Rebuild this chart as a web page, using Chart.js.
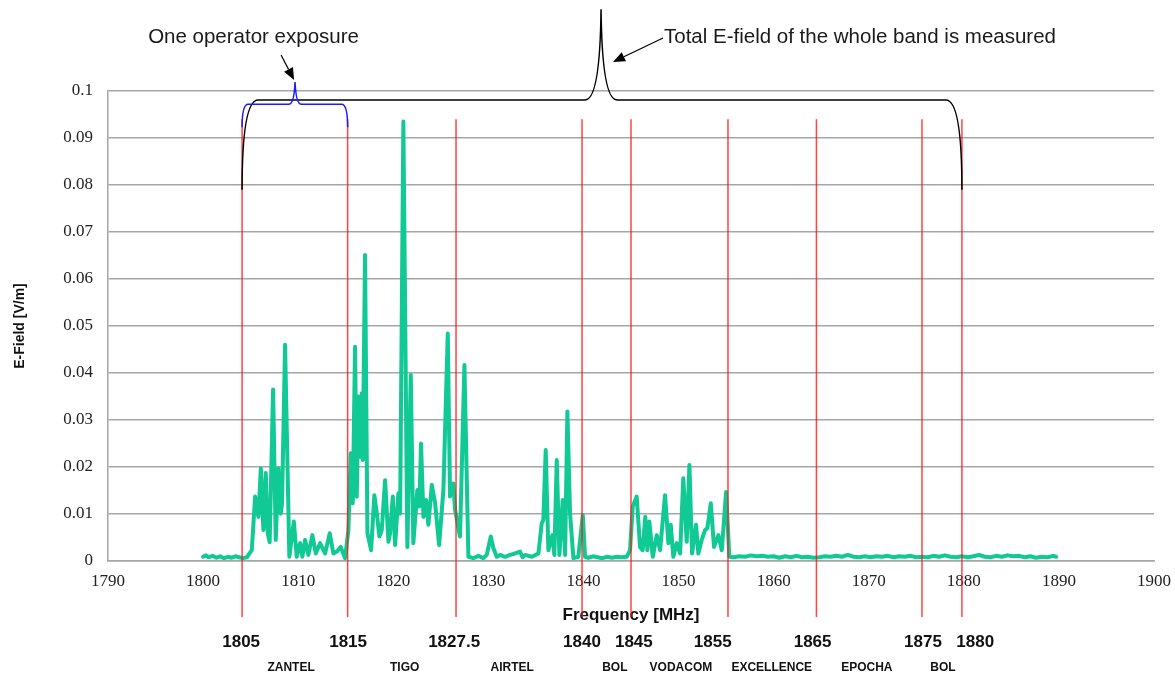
<!DOCTYPE html>
<html>
<head>
<meta charset="utf-8">
<script src="https://cdn.jsdelivr.net/npm/chart.js@4.4.1/dist/chart.umd.min.js"></script>
<style>
    body { margin: 0; background: #fff; }
    #wrap { width: 1175px; height: 677px; }
</style>
</head>
<body>
<div id="wrap"><canvas id="chart" width="1175" height="677"></canvas></div>
<script>
// measured spectrum
const freq = [
    1800.0, 1800.3, 1800.6, 1801.0, 1801.4, 1801.8, 1802.2, 1802.6, 1803.0, 1803.4, 1803.8, 1804.2, 1804.6,
    1805.12, 1805.47, 1805.82, 1806.07, 1806.34, 1806.59, 1806.8, 1807.0, 1807.36, 1807.64, 1807.92, 1808.17,
    1808.3, 1808.62, 1809.07, 1809.54, 1809.85, 1810.2, 1810.44, 1810.73, 1811.07, 1811.49, 1811.85, 1812.3,
    1812.83, 1813.32, 1813.7, 1814.06, 1814.48, 1814.93, 1815.28, 1815.53, 1815.74, 1815.98, 1816.16, 1816.33,
    1816.51, 1816.69, 1816.79, 1817.03, 1817.28, 1817.67, 1818.01, 1818.27, 1818.54, 1818.79, 1819.14, 1819.49,
    1819.66, 1819.95, 1820.19, 1820.54, 1820.72, 1821.06, 1821.48, 1821.84, 1822.11, 1822.53, 1822.74, 1822.92,
    1823.17, 1823.45, 1823.69, 1824.05, 1824.4, 1824.82, 1825.27, 1825.73, 1825.97, 1826.32, 1826.5, 1827.02,
    1827.48, 1827.9, 1828.42, 1828.95, 1829.47, 1829.83, 1830.25, 1830.53, 1830.88, 1831.23, 1831.76, 1832.28,
    1832.81, 1833.33, 1833.6, 1833.86, 1834.56, 1835.26, 1835.61, 1835.78, 1836.03, 1836.31, 1836.73, 1836.94,
    1837.19, 1837.47, 1837.82, 1838.07, 1838.31, 1838.59, 1838.94, 1839.46, 1839.93, 1840.17, 1840.5, 1841.0,
    1841.5, 1842.0, 1842.5, 1843.0, 1843.5, 1844.0, 1844.55, 1844.9, 1845.18, 1845.6, 1845.95, 1846.23, 1846.5,
    1846.72, 1846.93, 1847.29, 1847.71, 1848.06, 1848.58, 1848.93, 1849.18, 1849.45, 1849.81, 1850.16, 1850.5,
    1850.86, 1851.14, 1851.42, 1851.84, 1852.08, 1852.44, 1852.79, 1853.03, 1853.39, 1853.73, 1854.19, 1854.55,
    1855.0, 1855.34, 1855.8, 1856.4, 1857.0, 1857.6, 1858.2, 1858.8, 1859.4, 1860.0, 1860.6, 1861.2, 1861.8,
    1862.4, 1863.0, 1863.6, 1864.2, 1864.8, 1865.4, 1866.0, 1866.6, 1867.2, 1867.8, 1868.4, 1869.0, 1869.6,
    1870.2, 1870.8, 1871.4, 1872.0, 1872.6, 1873.2, 1873.8, 1874.4, 1875.0, 1875.6, 1876.2, 1876.8, 1877.4,
    1878.0, 1878.6, 1879.2, 1879.8, 1880.4, 1881.0, 1881.6, 1882.2, 1882.8, 1883.4, 1884.0, 1884.6, 1885.2,
    1885.8, 1886.4, 1887.0, 1887.6, 1888.2, 1888.8, 1889.4, 1889.7,
];
const efield = [
    0.0009, 0.0012, 0.0008, 0.0011, 0.0007, 0.0010, 0.0006, 0.0009, 0.0007, 0.0010, 0.0008, 0.0006, 0.0008,
    0.0023, 0.0137, 0.0094, 0.0197, 0.0066, 0.0187, 0.0059, 0.0040, 0.0365, 0.0045, 0.0197, 0.0101,
    0.0122, 0.0460, 0.0009, 0.0084, 0.0009, 0.0038, 0.0009, 0.0045, 0.0013, 0.0055, 0.0016, 0.0038,
    0.0016, 0.0059, 0.0016, 0.0020, 0.0030, 0.0006, 0.0066, 0.0229, 0.0123, 0.0456, 0.0137, 0.0350,
    0.0222, 0.0357, 0.0215, 0.0651, 0.0059, 0.0023, 0.0140, 0.0101, 0.0052, 0.0066, 0.0172, 0.0041,
    0.0059, 0.0137, 0.0034, 0.0144, 0.0101, 0.0935, 0.0030, 0.0396, 0.0038, 0.0151, 0.0116, 0.0250,
    0.0094, 0.0130, 0.0077, 0.0162, 0.0123, 0.0034, 0.0151, 0.0484, 0.0137, 0.0165, 0.0109, 0.0052,
    0.0417, 0.0009, 0.0006, 0.0011, 0.0006, 0.0013, 0.0052, 0.0027, 0.0009, 0.0013, 0.0009, 0.0013,
    0.0016, 0.0020, 0.0008, 0.0013, 0.0009, 0.0016, 0.0080, 0.0087, 0.0236, 0.0023, 0.0055, 0.0013,
    0.0215, 0.0013, 0.0130, 0.0013, 0.0318, 0.0101, 0.0006, 0.0009, 0.0098, 0.0009, 0.0007, 0.0010,
    0.0008, 0.0006, 0.0009, 0.0007, 0.0009, 0.0008, 0.0009, 0.0023, 0.0116, 0.0137, 0.0030, 0.0023, 0.0094,
    0.0023, 0.0084, 0.0009, 0.0055, 0.0023, 0.0140, 0.0038, 0.0077, 0.0009, 0.0038, 0.0016, 0.0176,
    0.0041, 0.0204, 0.0016, 0.0077, 0.0016, 0.0045, 0.0066, 0.0070, 0.0123, 0.0030, 0.0055, 0.0023,
    0.0147, 0.0009, 0.0008, 0.0010, 0.0009, 0.0012, 0.0010, 0.0011, 0.0009, 0.0010, 0.0007, 0.0010, 0.0008,
    0.0011, 0.0008, 0.0009, 0.0007, 0.0008, 0.0010, 0.0009, 0.0011, 0.0009, 0.0013, 0.0009, 0.0008, 0.0010,
    0.0008, 0.0010, 0.0009, 0.0011, 0.0008, 0.0010, 0.0009, 0.0011, 0.0008, 0.0009, 0.0008, 0.0011, 0.0009,
    0.0012, 0.0009, 0.0008, 0.0010, 0.0008, 0.0010, 0.0013, 0.0009, 0.0008, 0.0011, 0.0009, 0.0012, 0.0010,
    0.0011, 0.0008, 0.0010, 0.0007, 0.0009, 0.0008, 0.0011, 0.0009,
];

// operator band edges (red markers) and their labels
const bandEdges = [1804.1, 1815.2, 1826.6, 1839.85, 1845.0, 1855.2, 1864.5, 1875.6, 1879.8];
const edgeLabels = ["1805", "1815", "1827.5", "1840", "1845", "1855", "1865", "1875", "1880"];
const edgeLabelAt = [1804.0, 1815.25, 1826.4, 1839.85, 1845.3, 1853.6, 1864.1, 1875.7, 1881.2];
const operators = ["ZANTEL", "TIGO", "AIRTEL", "BOL", "VODACOM", "EXCELLENCE", "EPOCHA", "BOL"];
const operatorAt = [1809.25, 1821.2, 1832.5, 1843.3, 1850.25, 1859.8, 1869.8, 1877.8];

const X_MIN = 1790;
const X_MAX = 1900;
const Y_MAX = 0.1;
const EDGE_BOTTOM = -0.0119;
const EDGE_TOP = 0.094;

const SANS = "'Liberation Sans', Arial, sans-serif";
const SERIF = "'Liberation Serif', 'Times New Roman', serif";

const braces = [
    { from: 1804.1, to: 1879.8, peak: 1841.85, end: 0.079, bar: 0.0981, top: 0.1174, corner: 16, tip: 16, color: "#000" },
    { from: 1804.1, to: 1815.2, peak: 1809.67, end: 0.0923, bar: 0.0972, top: 0.1019, corner: 6, tip: 6, color: "#1a1aff" },
];

const notes = [
    { text: "One operator exposure", at: [1794.22, 0.1115], from: [1808.2, 0.10766], to: [1809.57, 0.10234] },
    { text: "Total E-field of the whole band is measured", at: [1848.47, 0.1115], from: [1848.37, 0.11128], to: [1843.11, 0.10617] },
];

const drawBrace = (ctx, b, px, py) => {
    const xl = px(b.from), xr = px(b.to), xp = px(b.peak);
    const ye = py(b.end), yb = py(b.bar), yt = py(b.top);
    ctx.beginPath();
    ctx.moveTo(xl, ye);
    ctx.quadraticCurveTo(xl, yb, xl + b.corner, yb);
    ctx.lineTo(xp - b.tip, yb);
    ctx.quadraticCurveTo(xp - 1, yb, xp, yt);
    ctx.quadraticCurveTo(xp + 1, yb, xp + b.tip, yb);
    ctx.lineTo(xr - b.corner, yb);
    ctx.quadraticCurveTo(xr, yb, xr, ye);
    ctx.strokeStyle = b.color;
    ctx.lineWidth = 1.5;
    ctx.stroke();
};

const drawArrow = (ctx, x1, y1, x2, y2) => {
    const a = Math.atan2(y2 - y1, x2 - x1);
    const len = 12, half = 5;
    ctx.beginPath();
    ctx.moveTo(x1, y1);
    ctx.lineTo(x2 - Math.cos(a) * len, y2 - Math.sin(a) * len);
    ctx.strokeStyle = "#000";
    ctx.lineWidth = 1.2;
    ctx.stroke();
    ctx.beginPath();
    ctx.moveTo(x2, y2);
    ctx.lineTo(x2 - Math.cos(a) * len - Math.sin(a) * half, y2 - Math.sin(a) * len + Math.cos(a) * half);
    ctx.lineTo(x2 - Math.cos(a) * len + Math.sin(a) * half, y2 - Math.sin(a) * len - Math.cos(a) * half);
    ctx.closePath();
    ctx.fillStyle = "#000";
    ctx.fill();
};

const overlay = {
    id: "overlay",
    afterDraw(chart) {
        const { ctx, scales: { x, y } } = chart;
        const px = (f) => x.getPixelForValue(f);
        const py = (v) => y.getPixelForValue(v);
        ctx.save();

        braces.forEach((b) => drawBrace(ctx, b, px, py));

        ctx.font = "20.5px " + SANS;
        ctx.textAlign = "left";
        ctx.textBaseline = "middle";
        for (const n of notes) {
            ctx.fillStyle = "#1a1a1a";
            ctx.fillText(n.text, px(n.at[0]), py(n.at[1]));
            drawArrow(ctx, px(n.from[0]), py(n.from[1]), px(n.to[0]), py(n.to[1]));
        }

        // band edge values and operator names under the axis
        ctx.fillStyle = "#111";
        ctx.textAlign = "center";
        ctx.font = "bold 17px " + SANS;
        edgeLabels.forEach((t, i) => ctx.fillText(t, px(edgeLabelAt[i]), py(-0.0172)));
        ctx.font = "bold 12px " + SANS;
        operators.forEach((t, i) => ctx.fillText(t, px(operatorAt[i]), py(-0.0226)));

        ctx.restore();
    },
};

const edgeSets = bandEdges.map((f) => ({
    data: [{ x: f, y: EDGE_BOTTOM }, { x: f, y: EDGE_TOP }],
    borderColor: "rgba(255, 20, 20, 0.8)",
    borderWidth: 1.5,
    pointRadius: 0,
    clip: false,
    order: 1,
}));

new Chart(document.getElementById("chart"), {
    type: "line",
    data: {
        datasets: [
            {
                label: "E-Field",
                data: freq.map((f, i) => ({ x: f, y: efield[i] })),
                borderColor: "#10c994",
                borderWidth: 4,
                pointRadius: 0,
                tension: 0,
                borderJoinStyle: "round",
                borderCapStyle: "round",
                order: 2,
            },
            ...edgeSets,
        ],
    },
    options: {
        responsive: false,
        animation: false,
        devicePixelRatio: 1,
        layout: { padding: { top: 91, right: 21, bottom: 0, left: 0 } },
        plugins: {
            legend: { display: false },
            tooltip: { enabled: false },
        },
        scales: {
            x: {
                type: "linear",
                min: X_MIN,
                max: X_MAX,
                afterFit: (scale) => {
                    scale.height = 116;
                    scale.paddingLeft = 0;
                    scale.paddingRight = 0;
                },
                grid: { display: false, drawTicks: false },
                border: { display: true, color: "#a6a6a6", width: 1.5 },
                ticks: {
                    stepSize: 10,
                    padding: 10,
                    color: "#222",
                    font: { family: SERIF, size: 17 },
                    callback: (v) => String(v),
                },
                title: {
                    display: true,
                    text: "Frequency [MHz]",
                    color: "#111",
                    font: { family: SANS, size: 17, weight: "bold" },
                    padding: { top: 0, bottom: 51 },
                },
            },
            y: {
                min: 0,
                max: Y_MAX,
                afterFit: (scale) => { scale.width = 108; },
                grid: { color: "#a6a6a6", lineWidth: 1.5, drawTicks: false },
                border: { display: true, color: "#a6a6a6", width: 1.5 },
                ticks: {
                    stepSize: 0.01,
                    padding: 15,
                    color: "#222",
                    font: { family: SERIF, size: 17 },
                    callback: (v) => String(parseFloat(v.toFixed(2))),
                },
                title: {
                    display: true,
                    text: "E-Field [V/m]",
                    color: "#111",
                    font: { family: SANS, size: 14, weight: "bold" },
                    padding: { top: 11.6, bottom: 0 },
                },
            },
        },
    },
    plugins: [overlay],
});
</script>
</body>
</html>
